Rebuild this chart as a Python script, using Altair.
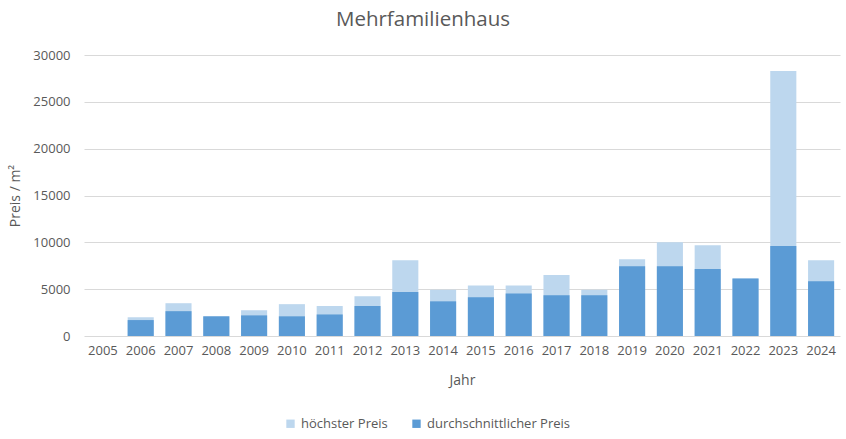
import altair as alt
import pandas as pd

years = [str(y) for y in range(2005, 2025)]
hoechst = [None, 2000, 3500, 2100, 2750, 3400, 3200, 4250, 8100, 4950,
           5400, 5400, 6500, 4950, 8200, 10000, 9700, 6150, 28300, 8100]
durchschnitt = [None, 1700, 2650, 2100, 2200, 2100, 2300, 3200, 4700, 3700,
                4150, 4550, 4350, 4350, 7450, 7450, 7150, 6150, 9600, 5850]
series = ["höchster Preis", "durchschnittlicher Preis"]
colors = ["#BDD7EE", "#5B9BD5"]

rows = []
for name, vals in zip(series, [hoechst, durchschnitt]):
    for i, (y, v) in enumerate(zip(years, vals)):
        if v is not None:
            rows.append({"Jahr": y, "Preis": v, "Serie": name,
                         "ord": series.index(name)})
df = pd.DataFrame(rows)

FONT = "Open Sans"
TXT = "#595959"

chart = alt.Chart(df).mark_bar().encode(
    x=alt.X("Jahr:N", sort=years, scale=alt.Scale(domain=years, paddingInner=0.31, paddingOuter=0.155),
            axis=alt.Axis(title="Jahr", labelAngle=0, ticks=False, domain=False,
                          labelPadding=8, titlePadding=16, labelFontSize=13,
                          titleFontSize=14, labelColor=TXT, titleColor=TXT,
                          labelFont=FONT, titleFont=FONT, titleFontWeight="normal")),
    y=alt.Y("Preis:Q", stack=None, scale=alt.Scale(domain=[0, 30000], nice=False),
            axis=alt.Axis(title="Preis / m²", values=list(range(0, 30001, 5000)),
                          format="d",
                          ticks=False, domain=False, labelPadding=14, titlePadding=10,
                          labelFontSize=13, titleFontSize=14, labelColor=TXT,
                          titleColor=TXT, labelFont=FONT, titleFont=FONT,
                          titleFontWeight="normal", gridColor="#D9D9D9")),
    color=alt.Color("Serie:N", scale=alt.Scale(domain=series, range=colors),
                    legend=alt.Legend(title=None, orient="none", direction="horizontal",
                                      legendX=200, legendY=362, symbolType="square",
                                      symbolSize=70, symbolStrokeWidth=0,
                                      labelFontSize=13, labelColor=TXT, labelFont=FONT,
                                      columnPadding=22, labelOffset=4)),
    order=alt.Order("ord:Q"),
).properties(
    width=756, height=281,
    title=alt.TitleParams("Mehrfamilienhaus", fontSize=20.5, font=FONT, color=TXT,
                          fontWeight="normal", anchor="middle", dx=-39, offset=19),
    autosize=alt.AutoSizeParams(type="none"),
    padding={"left": 84, "top": 55, "right": 6, "bottom": 103},
).configure_view(stroke=None)

chart.save("out.html", embed_options={"renderer": "svg", "actions": False})
